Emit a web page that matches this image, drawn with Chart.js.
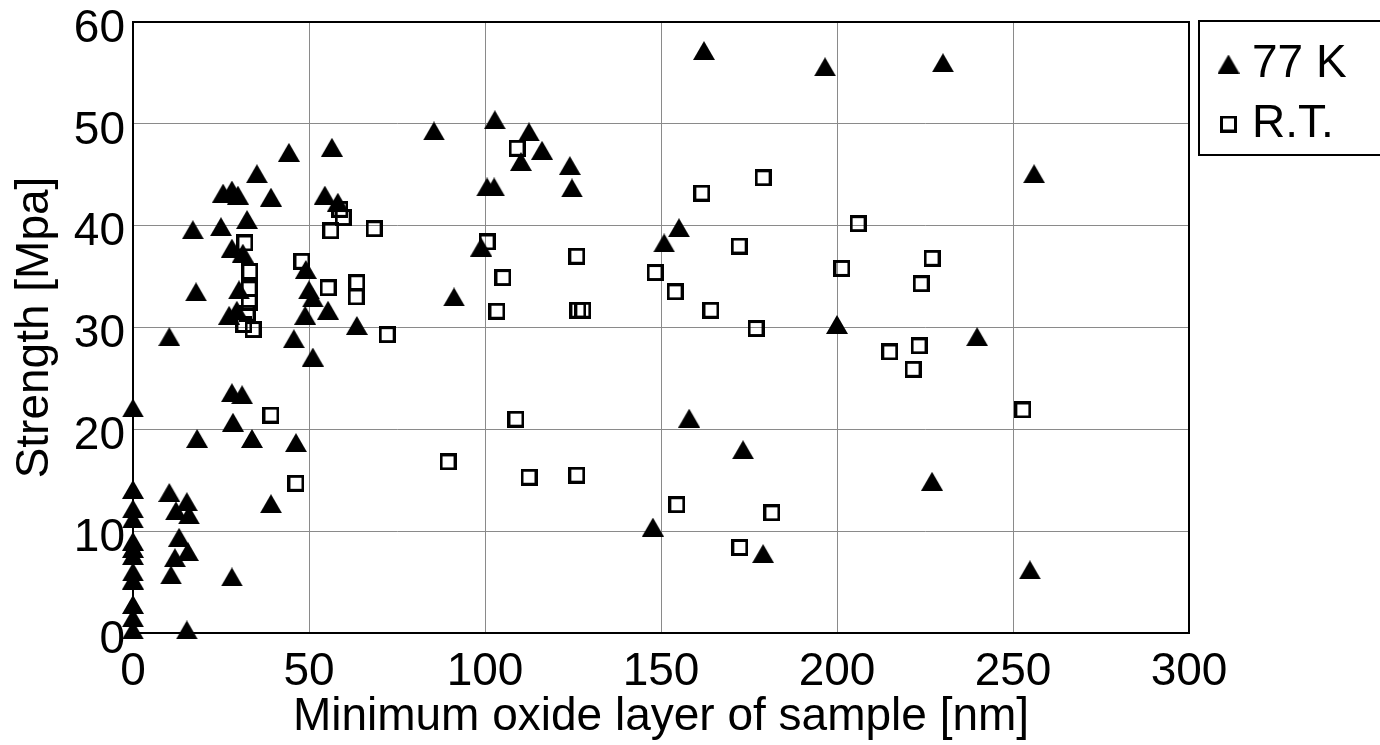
<!DOCTYPE html>
<html>
<head>
<meta charset="utf-8">
<script src="https://cdn.jsdelivr.net/npm/chart.js@4"></script>
<style>
  html, body { margin: 0; padding: 0; background: #fff; }
  #wrap { width: 1380px; height: 745px; }
</style>
</head>
<body>
<div id="wrap"><canvas id="strengthChart" width="1380" height="745"></canvas></div>
<script>
// values
var coldX = [0, 0, 0, 0, 0, 0, 0, 0, 0, 0, 0, 0,
    10.3, 10.3, 12.2, 15.3, 15.9, 13.1, 15.6, 11.9, 10.8, 15.3,
    17.0, 17.9, 18.2, 25.0, 25.6, 28.1, 29.8, 32.4, 28.1, 31.2,
    30.1, 27.3, 29.5, 28.1, 31.0, 28.4, 33.8, 28.1, 35.2, 39.2,
    39.2, 44.3, 45.7, 46.3, 49.1, 50.0, 51.1, 48.9, 51.1, 54.5,
    56.5, 58.2, 55.4, 63.6, 85.5, 91.2, 98.9, 100.6, 102.6, 102.8,
    110.2, 112.5, 116.2, 124.1, 124.7, 147.7, 150.9, 155.1, 158.0, 162.2,
    173.3, 179.0, 196.6, 200.0, 227.0, 230.1, 239.8, 256.0, 254.8];
var coldY = [22.1, 14.1, 12.2, 11.2, 9.0, 8.3, 7.6, 6.0, 5.2, 2.8, 1.5, 0.3,
    29.1, 13.8, 12.0, 12.9, 11.6, 9.4, 8.0, 7.4, 5.7, 0.3,
    39.6, 33.5, 19.1, 39.9, 43.2, 43.5, 43.0, 40.6, 37.8, 37.3,
    33.7, 31.2, 31.7, 23.6, 23.4, 20.7, 19.1, 5.5, 45.1, 42.8,
    12.7, 47.2, 28.9, 18.7, 35.7, 33.7, 32.9, 31.2, 27.1, 43.0,
    47.7, 42.3, 31.7, 30.2, 49.3, 33.0, 37.9, 43.8, 43.8, 50.4,
    46.3, 49.2, 47.4, 45.9, 43.7, 10.4, 38.3, 39.8, 21.1, 57.2,
    18.0, 7.8, 55.6, 30.3, 14.9, 56.0, 29.1, 45.1, 6.2];

var roomX = [31.8, 33.2, 33.0, 33.0, 32.4, 31.5, 34.1, 39.2, 46.3, 48.0,
    55.4, 56.2, 58.8, 59.7, 63.6, 63.4, 68.5, 72.2, 89.5, 100.6,
    103.4, 105.1, 108.8, 109.1, 112.5, 126.1, 126.1, 126.4, 127.8, 148.3,
    154.0, 154.5, 161.6, 164.2, 172.2, 172.4, 177.0, 179.0, 181.5, 201.4,
    206.0, 215.0, 221.6, 223.3, 223.9, 227.0, 252.8];
var roomY = [38.3, 35.5, 33.8, 32.5, 31.4, 30.3, 29.8, 21.4, 14.7, 36.5,
    33.9, 39.5, 41.6, 40.8, 34.4, 33.0, 39.7, 29.3, 16.8, 38.4,
    31.6, 34.9, 21.0, 47.6, 15.3, 37.0, 15.5, 31.7, 31.7, 35.4,
    33.5, 12.6, 43.2, 31.7, 38.0, 8.4, 29.9, 44.7, 11.8, 35.8,
    40.2, 27.6, 25.9, 28.2, 34.3, 36.8, 21.9];

var seriesNames = ['77 K', 'R.T.'];
var xTitle = 'Minimum oxide layer of sample [nm]';
var yTitle = 'Strength [Mpa]';

function toPoints(xs, ys) {
    var pts = [];
    for (var i = 0; i < xs.length; i++) {
        pts.push({x: xs[i], y: ys[i]});
    }
    return pts;
}

// marker images, centred on their bounding box like the original
function triangleMarker() {
    var c = document.createElement('canvas');
    c.width = 22; c.height = 19;
    var g = c.getContext('2d');
    g.fillStyle = '#000';
    g.beginPath();
    g.moveTo(11, 0);
    g.lineTo(22, 19);
    g.lineTo(0, 19);
    g.closePath();
    g.fill();
    return c;
}
function squareMarker() {
    var c = document.createElement('canvas');
    c.width = 17; c.height = 17;
    var g = c.getContext('2d');
    g.strokeStyle = '#000';
    g.lineWidth = 3;
    g.strokeRect(1.5, 1.5, 14, 14);
    return c;
}

var FONT = "'Liberation Sans', Arial, sans-serif";
Chart.defaults.font.family = FONT;
Chart.defaults.color = '#000';

var boxPlugin = {
    id: 'boxes',
    beforeInit: function(chart) {
        var fit = chart.legend.fit;
        chart.legend.fit = function() {
            fit.call(this);
            this.width = 191;
        };
    },
    afterLayout: function(chart) {
        chart.legend.left = 1214;
        chart.legend.top = 27;
    },
    afterDraw: function(chart) {
        var ctx = chart.ctx, a = chart.chartArea;
        ctx.save();
        ctx.strokeStyle = '#000';
        ctx.lineWidth = 2;
        ctx.strokeRect(a.left, a.top, a.right - a.left, a.bottom - a.top);
        ctx.strokeRect(1199, 21, 300, 134);
        ctx.restore();
    }
};

new Chart(document.getElementById('strengthChart'), {
    type: 'scatter',
    data: {
        datasets: [{
            label: seriesNames[0],
            data: toPoints(coldX, coldY),
            pointStyle: triangleMarker(),
            backgroundColor: '#000',
            borderColor: '#000',
            clip: false
        }, {
            label: seriesNames[1],
            data: toPoints(roomX, roomY),
            pointStyle: squareMarker(),
            backgroundColor: '#000',
            borderColor: '#000',
            clip: false
        }]
    },
    options: {
        responsive: false,
        animation: false,
        events: [],
        layout: {padding: {top: 22, right: 0, left: 0, bottom: 0}},
        plugins: {
            tooltip: {enabled: false},
            legend: {
                position: 'right',
                align: 'start',
                labels: {
                    usePointStyle: true,
                    boxWidth: 1,
                    padding: 14,
                    color: '#000',
                    font: {size: 46, family: FONT}
                }
            }
        },
        scales: {
            x: {
                type: 'linear',
                min: 0,
                max: 300,
                afterFit: function(s) { s.height = 112; },
                ticks: {stepSize: 50, padding: 12, font: {size: 46}, color: '#000', maxRotation: 0},
                grid: {color: '#8a8a8a', lineWidth: 1, drawTicks: false},
                border: {color: '#000', width: 2},
                title: {display: true, text: xTitle, font: {size: 46}, color: '#000', padding: {top: 0, bottom: 0}}
            },
            y: {
                type: 'linear',
                min: 0,
                max: 60,
                afterFit: function(s) {
                    s.width = 133;
                    s.paddingTop = 0;
                    s.paddingBottom = 0;
                },
                ticks: {stepSize: 10, padding: 8, labelOffset: 7, font: {size: 46}, color: '#000'},
                grid: {color: '#8a8a8a', lineWidth: 1, drawTicks: false},
                border: {color: '#000', width: 2},
                title: {display: true, text: yTitle, font: {size: 46}, color: '#000', padding: {top: 8, bottom: 0}}
            }
        }
    },
    plugins: [boxPlugin]
});
</script>
</body>
</html>
